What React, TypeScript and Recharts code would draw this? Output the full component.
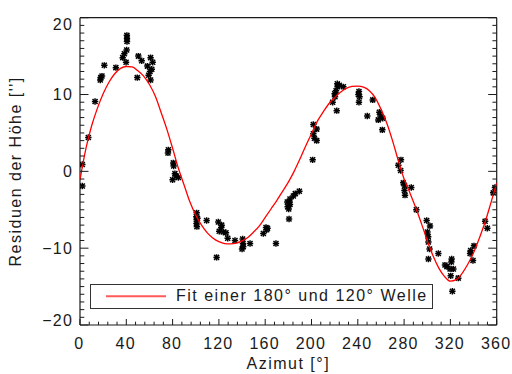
import React from 'react';
import { ComposedChart, Scatter, XAxis, YAxis, Legend, Label } from 'recharts';

// Measured residuals (azimuth in degrees, residual in arcsec)
const residAz = [
  2, 2, 7.2, 13, 17.5, 17.9, 19, 21, 31, 36.9, 38.3, 40.3, 39.8, 40.6, 40.6, 40.5, 50.4, 53.3, 49.5, 58.2, 61, 62.8, 62, 60.5, 59.3, 61,
  76.3, 76, 80.6, 80.9, 82, 83, 80, 85,
  100.8, 100.5, 100.8, 100.6, 101, 101.5, 109.4, 119.5, 122.4, 120.3, 123.8, 122, 126.1, 127.6, 118, 133.9, 140.5, 140.8, 140, 141, 146.9,
  160.7, 162, 158.4, 161.3, 169.3,
  179.1, 179.4, 180.6, 181.4, 181.4, 184.3, 186, 189.5, 180.6, 180.3,
  201.6, 204.5, 201.6, 202.5, 204.5, 201, 222.3, 221.2, 220.3, 220, 218.3, 221.8, 227.5, 224, 222.5, 241, 241.5, 241, 240.5,
  252.9, 248.2, 258.6, 261.5, 257.7, 261.2, 259.5,
  275, 277.3, 277, 279.3, 280.5, 280.3, 280.8, 286.2, 290.6,
  299.5, 302.4, 300.2, 300.8, 301, 302, 301, 309.6, 315.3, 317, 321.1, 320.8, 319.7, 322.6, 320.3, 326.8, 321.7,
  337, 339.5, 340.4, 337.5, 350, 351.9, 357, 358.5,
];
const residVal = [
  0.9, -1.9, 4.4, 9.1, 11.9, 12.2, 12.4, 13.8, 13.5, 14.8, 15.3, 15.8, 14.2, 17.3, 16.9, 17.7, 15.0, 14.4, 12.2, 13.7, 14.8, 14.2, 13.3, 13.0, 12.5, 11.9,
  2.8, 2.4, 1.1, 0.7, -0.3, -0.6, -1.1, -0.8,
  -5.4, -5.9, -6.3, -6.8, -7.2, -6.1, -6.4, -6.6, -7.0, -7.8, -7.9, -7.3, -8.0, -8.7, -11.2, -9.0, -8.8, -9.4, -10.1, -9.8, -9.4,
  -7.3, -7.4, -8.1, -7.6, -9.4,
  -4.0, -4.6, -4.0, -4.3, -3.6, -3.2, -2.9, -2.6, -6.2, -4.9,
  6.1, 5.5, 4.9, 4.3, 4.0, 1.5, 11.4, 10.5, 9.7, 10.1, 9.0, 7.9, 11.0, 11.2, 11.0, 10.4, 9.7, 9.0, 10.0,
  9.3, 7.2, 7.7, 6.9, 6.7, 5.4, 7.2,
  0.8, 1.5, 0.1, -1.5, -1.9, -2.5, -3.1, -2.1, -5.0,
  -6.4, -7.1, -7.9, -8.5, -9.2, -10.1, -11.4, -10.7, -12.2, -12.4, -11.4, -11.8, -12.7, -12.7, -13.6, -13.9, -15.6,
  -10.7, -11.6, -9.7, -10.3, -6.5, -7.4, -2.8, -2.1,
];

// Fit curve
const fitAz = [
  0, 5, 10, 15, 20, 25, 30, 35, 40, 45, 50, 55, 60, 65, 70, 75, 80, 85, 90, 95,
  100, 105, 110, 115, 120, 125, 130, 135, 140, 145, 150, 155, 160, 165, 170, 175, 180, 185, 190, 195,
  200, 205, 210, 215, 220, 225, 230, 235, 240, 245, 250, 255, 260, 265, 270, 275, 280, 285, 290, 295,
  300, 305, 310, 315, 320, 325, 330, 335, 340, 345, 350, 355, 360,
];
const fitVal = [
  -1.1, 2.9, 5.9, 8.2, 10.1, 11.6, 12.7, 13.4, 13.65, 13.6, 13.1, 12.4, 11.3, 9.8, 7.7, 5.5, 3.0, 0.4, -1.8, -4.0,
  -5.7, -7.0, -8.0, -8.7, -9.15, -9.4, -9.45, -9.35, -9.05, -8.6, -7.9, -7.1, -6.0, -4.9, -3.8, -2.6, -1.4, 0.0, 1.6, 3.3,
  4.9, 6.5, 7.7, 8.8, 9.6, 10.3, 10.8, 11.05, 11.1, 10.95, 10.5, 9.6, 8.1, 6.3, 4.0, 1.4, -1.0, -2.8, -4.7, -6.8,
  -9.0, -11.0, -12.6, -13.7, -14.3, -14.1, -13.3, -12.1, -10.6, -8.7, -6.6, -4.1, -1.5,
];

const xTicks = [
  0, 8, 16, 24, 32, 40, 48, 56, 64, 72, 80, 88, 96, 104, 112, 120, 128, 136, 144, 152, 160, 168, 176, 184, 192,
  200, 208, 216, 224, 232, 240, 248, 256, 264, 272, 280, 288, 296, 304, 312, 320, 328, 336, 344, 352, 360,
];
const yTicks = [
  -20, -19, -18, -17, -16, -15, -14, -13, -12, -11, -10, -9, -8, -7, -6, -5, -4, -3, -2, -1, 0,
  1, 2, 3, 4, 5, 6, 7, 8, 9, 10, 11, 12, 13, 14, 15, 16, 17, 18, 19, 20,
];
const xMajorStep = 40;
const yMajorStep = 10;

const xTitle = 'Azimut [°]';
const yTitle = "Residuen der Höhe ['']";
const legendText = 'Fit einer 180° und 120° Welle';

const residData = residAz.map((x, i) => ({ x, y: residVal[i] }));
const fitData = fitAz.map((x, i) => ({ x, y: fitVal[i] }));

const FONT = '"Liberation Sans", Arial, sans-serif';
const INK = '#1a1a1a';
const textStyle = { fontFamily: FONT, fontSize: 16, letterSpacing: '1.5px', fill: INK } as const;
const tickStyle = { fontFamily: FONT, fontSize: 16, letterSpacing: '1.2px', fill: INK } as const;
const AX = 0.01; // near-zero axis thickness so the plot frame fills the margins

const fmt = (v: number) => (v < 0 ? '\u2212' + Math.abs(v) : String(v));

const BottomTick = (props: any) => {
  const { x, y, payload } = props;
  const v = payload.value;
  const major = v % xMajorStep === 0;
  return (
    <g>
      <line x1={x} x2={x} y1={y} y2={y - (major ? 6 : 3.3)} stroke={INK} strokeWidth={1} />
      {major && (
        <text x={x - 0.6} y={y + 23.5} textAnchor="middle" style={tickStyle}>
          {fmt(v)}
        </text>
      )}
    </g>
  );
};

const TopTick = (props: any) => {
  const { x, y, payload } = props;
  const major = payload.value % xMajorStep === 0;
  return <line x1={x} x2={x} y1={y} y2={y + (major ? 6 : 3.3)} stroke={INK} strokeWidth={1} />;
};

const LeftTick = (props: any) => {
  const { x, y, payload } = props;
  const v = payload.value;
  const major = v % yMajorStep === 0;
  let dy = 5.7;
  if (v === 20) dy += 6.6;
  if (v === -20) dy -= 5;
  return (
    <g>
      <line x1={x} x2={x + (major ? 8.5 : 4.3)} y1={y} y2={y} stroke={INK} strokeWidth={1} />
      {major && (
        <text x={x - 7} y={y + dy} textAnchor="end" style={tickStyle}>
          {fmt(v)}
        </text>
      )}
    </g>
  );
};

const RightTick = (props: any) => {
  const { x, y, payload } = props;
  const major = payload.value % yMajorStep === 0;
  return <line x1={x} x2={x - (major ? 8.5 : 4.3)} y1={y} y2={y} stroke={INK} strokeWidth={1} />;
};

const Star = (props: any) => {
  const { cx, cy } = props;
  if (cx == null || cy == null) return <g />;
  const r = 3.2;
  const d = 2.5;
  return (
    <g stroke="#000" strokeWidth={1.5}>
      <line x1={cx - r} x2={cx + r} y1={cy} y2={cy} />
      <line x1={cx} x2={cx} y1={cy - r} y2={cy + r} />
      <line x1={cx - d} x2={cx + d} y1={cy - d} y2={cy + d} />
      <line x1={cx - d} x2={cx + d} y1={cy + d} y2={cy - d} />
    </g>
  );
};

const NoDot = () => <g />;

const renderLegend = () => (
  <div
    style={{
      boxSizing: 'border-box',
      width: 343,
      height: 24.5,
      border: '1.4px solid #333',
      background: '#fff',
      position: 'relative',
      fontFamily: FONT,
      fontSize: 16,
      letterSpacing: '1.5px',
      color: INK,
    }}
  >
    <svg width={80} height={22} style={{ position: 'absolute', left: 0, top: 0 }}>
      <line x1={15} x2={75} y1={11.3} y2={11.3} stroke="#ff5a5a" strokeWidth={2} />
    </svg>
    <span style={{ position: 'absolute', left: 85, top: 1, lineHeight: '20px', whiteSpace: 'nowrap' }}>{legendText}</span>
  </div>
);

export default function App() {
  return (
    <>
      <style>{'html,body,#root{overflow:visible !important} .recharts-wrapper,.recharts-surface{overflow:visible !important}'}</style>
      <ComposedChart
        width={504}
        height={366}
        style={{ overflow: 'visible' }}
        margin={{ top: 9.7 - AX, right: 15.3 - AX, bottom: 49 - AX, left: 72 - AX }}
      >
        <XAxis
          xAxisId="b"
          type="number"
          dataKey="x"
          domain={[0, 360]}
          ticks={xTicks}
          interval={0}
          tickSize={0}
          tickMargin={0}
          tickLine={false}
          tick={<BottomTick />}
          height={AX}
          allowDataOverflow
          axisLine={{ stroke: INK, strokeWidth: 1.2 }}
        >
          <Label
            content={(p: any) => {
              const vb = p.viewBox || {};
              return (
                <text x={vb.x + vb.width / 2} y={vb.y + 44} textAnchor="middle" style={textStyle}>
                  {xTitle}
                </text>
              );
            }}
          />
        </XAxis>
        <XAxis
          xAxisId="t"
          orientation="top"
          type="number"
          domain={[0, 360]}
          ticks={xTicks}
          interval={0}
          tickSize={0}
          tickMargin={0}
          tickLine={false}
          tick={<TopTick />}
          height={AX}
          allowDataOverflow
          axisLine={{ stroke: INK, strokeWidth: 1.2 }}
        />
        <YAxis
          yAxisId="l"
          type="number"
          dataKey="y"
          domain={[-20, 20]}
          ticks={yTicks}
          interval={0}
          tickSize={0}
          tickMargin={0}
          tickLine={false}
          tick={<LeftTick />}
          width={AX}
          allowDataOverflow
          axisLine={{ stroke: INK, strokeWidth: 1.2 }}
        >
          <Label
            content={(p: any) => {
              const vb = p.viewBox || {};
              const cx = vb.x - 59.3;
              const cy = vb.y + vb.height / 2;
              return (
                <text transform={`translate(${cx}, ${cy}) rotate(-90)`} x={0} y={0} textAnchor="middle" style={textStyle}>
                  {yTitle}
                </text>
              );
            }}
          />
        </YAxis>
        <YAxis
          yAxisId="r"
          orientation="right"
          type="number"
          domain={[-20, 20]}
          ticks={yTicks}
          interval={0}
          tickSize={0}
          tickMargin={0}
          tickLine={false}
          tick={<RightTick />}
          width={AX}
          allowDataOverflow
          axisLine={{ stroke: INK, strokeWidth: 1.2 }}
        />
        <Legend
          layout="horizontal"
          verticalAlign="middle"
          align="center"
          content={renderLegend}
          wrapperStyle={{ left: 82, top: 276, width: 343, height: 25 }}
        />
        <Scatter
          xAxisId="b"
          yAxisId="l"
          data={residData}
          dataKey="y"
          shape={<Star />}
          isAnimationActive={false}
        />
        <Scatter
          xAxisId="b"
          yAxisId="l"
          data={fitData}
          dataKey="y"
          shape={<NoDot />}
          line={{ stroke: '#ff0000', strokeWidth: 1.3 }}
          lineType="joint"
          lineJointType="monotoneX"
          isAnimationActive={false}
        />
      </ComposedChart>
    </>
  );
}
